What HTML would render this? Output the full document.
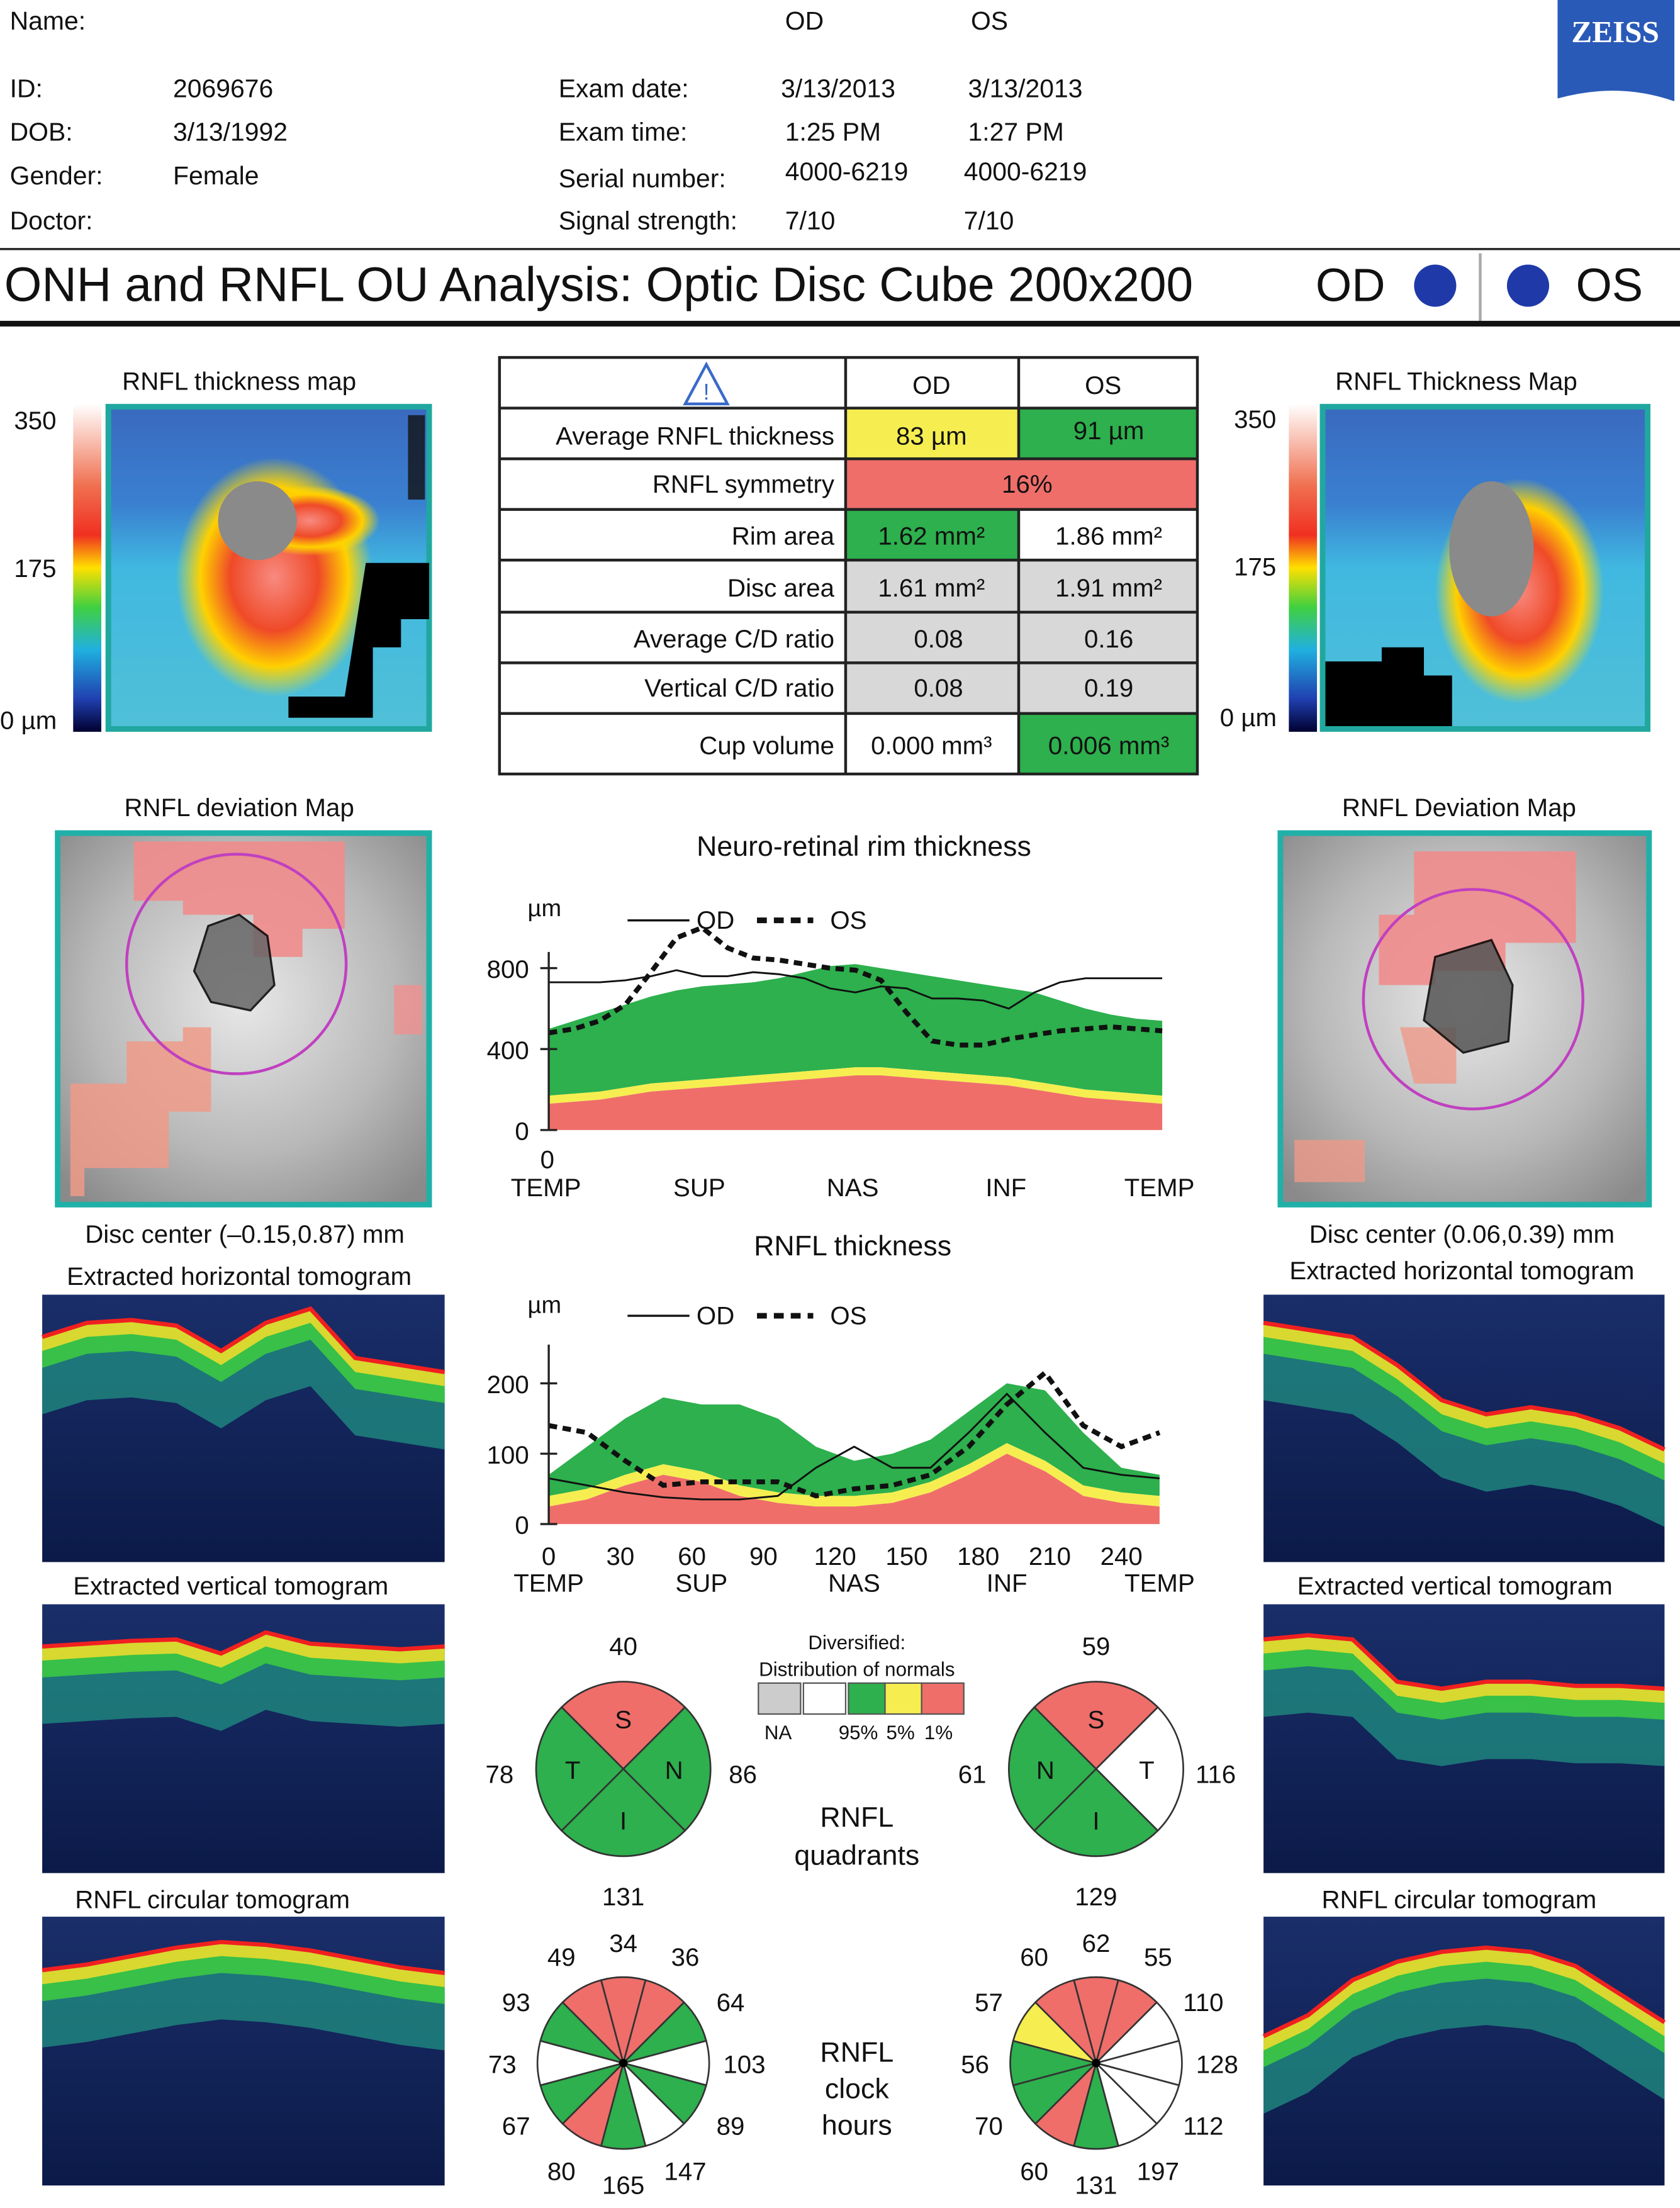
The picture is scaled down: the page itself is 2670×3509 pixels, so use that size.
<!DOCTYPE html>
<html><head><meta charset="utf-8"><style>
html,body{margin:0;padding:0;background:#fff}
svg{display:block}
text{font-family:"Liberation Sans",sans-serif;fill:#111}
</style></head><body>
<svg id="s" width="2670" height="3509" viewBox="0 0 1194 1569" preserveAspectRatio="none" xmlns="http://www.w3.org/2000/svg">
<defs>
<linearGradient id="cbar" x1="0" y1="0" x2="0" y2="1">
<stop offset="0" stop-color="#ffffff"/><stop offset="0.25" stop-color="#f07050"/><stop offset="0.4" stop-color="#f03020"/><stop offset="0.5" stop-color="#ffe000"/><stop offset="0.62" stop-color="#40d040"/><stop offset="0.75" stop-color="#20b0e0"/><stop offset="0.9" stop-color="#2040b0"/><stop offset="1" stop-color="#000030"/>
</linearGradient>
<radialGradient id="hot" cx="0.5" cy="0.5" r="0.5"><stop offset="0" stop-color="#f88a80"/><stop offset="0.45" stop-color="#ef4a28"/><stop offset="0.75" stop-color="#ffd000"/><stop offset="1" stop-color="#ffe000" stop-opacity="0"/></radialGradient>
<linearGradient id="mapbg" x1="0" y1="0" x2="0" y2="1"><stop offset="0" stop-color="#3a6ac0"/><stop offset="0.3" stop-color="#3a80d0"/><stop offset="0.5" stop-color="#40b8e0"/><stop offset="1" stop-color="#50c0d8"/></linearGradient>
<radialGradient id="fundus" cx="0.5" cy="0.45" r="0.7"><stop offset="0" stop-color="#e8e8e8"/><stop offset="0.6" stop-color="#b8b8b8"/><stop offset="1" stop-color="#8a8a8a"/></radialGradient>
<linearGradient id="tomobg" x1="0" y1="0" x2="0" y2="1"><stop offset="0" stop-color="#1a2e6a"/><stop offset="1" stop-color="#0b1a48"/></linearGradient>
</defs>

<g font-size="18.3">
<text x="7" y="21">Name:</text>
<text x="558" y="21">OD</text><text x="690" y="21">OS</text>
<text x="7" y="69">ID:</text><text x="123" y="69">2069676</text>
<text x="7" y="100">DOB:</text><text x="123" y="100">3/13/1992</text>
<text x="7" y="131">Gender:</text><text x="123" y="131">Female</text>
<text x="7" y="163">Doctor:</text>
<text x="397" y="69">Exam date:</text><text x="555" y="69">3/13/2013</text><text x="688" y="69">3/13/2013</text>
<text x="397" y="100">Exam time:</text><text x="558" y="100">1:25 PM</text><text x="688" y="100">1:27 PM</text>
<text x="397" y="133">Serial number:</text><text x="558" y="128">4000-6219</text><text x="685" y="128">4000-6219</text>
<text x="397" y="163">Signal strength:</text><text x="558" y="163">7/10</text><text x="685" y="163">7/10</text>
</g>
<g>
<path d="M1107 0 H1190 V72 Q1150 58 1107 70 Z" fill="#2a5ab8"/>
<text x="1148" y="30" font-size="22" font-weight="bold" text-anchor="middle" style="fill:#fff;font-family:'Liberation Serif',serif">ZEISS</text>
</g>
<line x1="0" y1="177" x2="1194" y2="177" stroke="#222" stroke-width="1.5"/>
<text x="3" y="214" font-size="34.3">ONH and RNFL OU Analysis: Optic Disc Cube 200x200</text>
<text x="935" y="214" font-size="33">OD</text><circle cx="1020" cy="203" r="15" fill="#1f3aa8"/>
<line x1="1052" y1="180" x2="1052" y2="228" stroke="#aaa" stroke-width="2"/>
<circle cx="1086" cy="203" r="15" fill="#1f3aa8"/><text x="1120" y="214" font-size="33">OS</text>
<line x1="0" y1="230" x2="1194" y2="230" stroke="#111" stroke-width="4"/>

<g>
<text x="170" y="277" font-size="18" text-anchor="middle">RNFL thickness map</text>
<text x="10" y="305" font-size="18">350</text><text x="10" y="410" font-size="18">175</text><text x="0" y="518" font-size="18">0 µm</text>
<rect x="52" y="287" width="20" height="233" fill="url(#cbar)"/>
<rect x="75" y="287" width="232" height="233" fill="#20a8a0"/>
<rect x="79" y="291" width="224" height="225" fill="url(#mapbg)"/>
<ellipse cx="195" cy="410" rx="70" ry="85" fill="url(#hot)"/>
<ellipse cx="220" cy="370" rx="50" ry="25" fill="url(#hot)"/>
<circle cx="183" cy="370" r="28" fill="#8a8a8a"/>
<path d="M260 400 h45 v40 h-20 v20 h-20 v50 h-60 v-15 h40 z" fill="#000"/>
<rect x="290" y="295" width="12" height="60" fill="#111" opacity="0.8"/>
</g>
<g>
<text x="1035" y="277" font-size="18" text-anchor="middle">RNFL Thickness Map</text>
<text x="877" y="304" font-size="18">350</text><text x="877" y="409" font-size="18">175</text><text x="867" y="516" font-size="18">0 µm</text>
<rect x="916" y="287" width="20" height="233" fill="url(#cbar)"/>
<rect x="938" y="287" width="235" height="233" fill="#20a8a0"/>
<rect x="942" y="291" width="227" height="225" fill="url(#mapbg)"/>
<ellipse cx="1080" cy="420" rx="60" ry="80" fill="url(#hot)"/>
<ellipse cx="1060" cy="390" rx="30" ry="48" fill="#8a8a8a"/>
<path d="M942 470 h40 v-10 h30 v20 h20 v36 h-90 z" fill="#000"/>
</g>

<g font-size="18">
<rect x="601" y="290" width="123" height="36" fill="#f6ee50"/>
<rect x="724" y="290" width="127" height="36" fill="#2db04d"/>
<rect x="601" y="326" width="250" height="36" fill="#ef6e6a"/>
<rect x="601" y="362" width="123" height="36" fill="#2db04d"/>
<rect x="601" y="398" width="250" height="109" fill="#d8d8d8"/>
<rect x="724" y="507" width="127" height="43" fill="#2db04d"/>
<g stroke="#222" stroke-width="2" fill="none">
<rect x="355" y="254" width="496" height="296"/>
<line x1="601" y1="254" x2="601" y2="550"/><line x1="724" y1="254" x2="724" y2="326"/><line x1="724" y1="362" x2="724" y2="550"/>
<line x1="355" y1="290" x2="851" y2="290"/><line x1="355" y1="326" x2="851" y2="326"/><line x1="355" y1="362" x2="851" y2="362"/>
<line x1="355" y1="398" x2="851" y2="398"/><line x1="355" y1="435" x2="851" y2="435"/><line x1="355" y1="471" x2="851" y2="471"/><line x1="355" y1="507" x2="851" y2="507"/>
</g>
<path d="M502 259 L517 287 H487 Z" fill="none" stroke="#3a6ac8" stroke-width="2"/><text x="502" y="284" font-size="16" text-anchor="middle" style="fill:#3a6ac8">!</text>
<text x="662" y="280" text-anchor="middle">OD</text><text x="784" y="280" text-anchor="middle">OS</text>
<g text-anchor="end">
<text x="593" y="316">Average RNFL thickness</text><text x="593" y="350">RNFL symmetry</text><text x="593" y="387">Rim area</text>
<text x="593" y="424">Disc area</text><text x="593" y="460">Average C/D ratio</text><text x="593" y="495">Vertical C/D ratio</text><text x="593" y="536">Cup volume</text>
</g>
<g text-anchor="middle">
<text x="662" y="316">83 µm</text><text x="788" y="312">91 µm</text><text x="730" y="350">16%</text>
<text x="662" y="387">1.62 mm²</text><text x="788" y="387">1.86 mm²</text>
<text x="662" y="424">1.61 mm²</text><text x="788" y="424">1.91 mm²</text>
<text x="667" y="460">0.08</text><text x="788" y="460">0.16</text>
<text x="667" y="495">0.08</text><text x="788" y="495">0.19</text>
<text x="662" y="536">0.000 mm³</text><text x="788" y="536">0.006 mm³</text>
</g>
</g>

<g>
<text x="170" y="580" font-size="18" text-anchor="middle">RNFL deviation Map</text>
<rect x="39" y="590" width="268" height="268" fill="#20b0a8"/>
<rect x="43" y="594" width="260" height="260" fill="url(#fundus)"/>
<path d="M95 598 H245 V660 H215 V680 H180 V650 H130 V640 H95 Z" fill="#f08c8c" opacity="0.9"/>
<path d="M50 800 V770 H90 V740 H130 V730 H150 V790 H120 V830 H60 V850 H50 Z" fill="#ee9a88" opacity="0.85"/>
<rect x="280" y="700" width="20" height="35" fill="#f09090" opacity="0.8"/>
<circle cx="168" cy="685" r="78" fill="none" stroke="#c040c0" stroke-width="2"/>
<path d="M148 658 L170 650 L190 665 L195 700 L178 718 L150 712 L138 690 Z" fill="#666" stroke="#000" stroke-width="1.5" opacity="0.85"/>
</g>
<text x="174" y="883" font-size="18" text-anchor="middle">Disc center (–0.15,0.87) mm</text>
<g>
<text x="1037" y="580" font-size="18" text-anchor="middle">RNFL Deviation Map</text>
<rect x="908" y="590" width="266" height="268" fill="#20b0a8"/>
<rect x="912" y="594" width="258" height="260" fill="url(#fundus)"/>
<path d="M1005 605 H1120 V670 H1070 V690 H1020 V700 H980 V650 H1005 Z" fill="#f08c8c" opacity="0.9"/>
<path d="M995 730 H1035 V770 H1005 Z" fill="#ee9a88" opacity="0.8"/>
<rect x="920" y="810" width="50" height="30" fill="#ee9a88" opacity="0.8"/>
<circle cx="1047" cy="710" r="78" fill="none" stroke="#c040c0" stroke-width="2"/>
<path d="M1020 680 L1060 668 L1075 700 L1072 740 L1040 748 L1012 725 Z" fill="#555" stroke="#000" stroke-width="1.5" opacity="0.85"/>
</g>
<text x="1039" y="883" font-size="18" text-anchor="middle">Disc center (0.06,0.39) mm</text>

<g font-size="18" text-anchor="middle">
<text x="170" y="913">Extracted horizontal tomogram</text><text x="1039" y="909">Extracted horizontal tomogram</text>
<text x="164" y="1133">Extracted vertical tomogram</text><text x="1034" y="1133">Extracted vertical tomogram</text>
<text x="151" y="1356">RNFL circular tomogram</text><text x="1037" y="1356">RNFL circular tomogram</text>
</g>
<g id="tomos"></g>

<text x="614" y="608" font-size="20" text-anchor="middle">Neuro-retinal rim thickness</text>
<text x="606" y="892" font-size="20" text-anchor="middle">RNFL thickness</text>
<g id="rim"></g>
<g id="rnfl"></g>

<g font-size="14" text-anchor="middle">
<text x="609" y="1172">Diversified:</text><text x="609" y="1191">Distribution of normals</text>
<rect x="539" y="1196" width="30" height="22" fill="#ccc" stroke="#555"/>
<rect x="571" y="1196" width="30" height="22" fill="#fff" stroke="#555"/>
<rect x="603" y="1196" width="26" height="22" fill="#2db04d" stroke="#555"/>
<rect x="629" y="1196" width="26" height="22" fill="#f6ee50" stroke="#555"/>
<rect x="655" y="1196" width="30" height="22" fill="#ef6e6a" stroke="#555"/>
<text x="553" y="1236">NA</text><text x="610" y="1236">95%</text><text x="640" y="1236">5%</text><text x="667" y="1236">1%</text>
</g>
<text x="609" y="1298" font-size="20" text-anchor="middle">RNFL</text><text x="609" y="1325" font-size="20" text-anchor="middle">quadrants</text>
<text x="609" y="1465" font-size="20" text-anchor="middle">RNFL</text><text x="609" y="1491" font-size="20" text-anchor="middle">clock</text><text x="609" y="1517" font-size="20" text-anchor="middle">hours</text>
<g id="pies"></g>
</svg>
<script>
var NS="http://www.w3.org/2000/svg";
function mk(parent,tag,attrs){var e=document.createElementNS(NS,tag);for(var k in attrs)e.setAttribute(k,attrs[k]);parent.appendChild(e);return e;}
var COL={R:"#ef6e6a",G:"#2db04d",W:"#ffffff",Y:"#f6ee50"};

var rimCats=["TEMP","SUP","NAS","INF","TEMP"];
var rimTicks=[0,400,800];
var rimOD=[730,730,730,740,760,790,760,760,780,770,750,700,680,710,700,650,650,640,600,680,730,750,750,750,750];
var rimOS=[480,500,540,620,780,950,1000,900,850,840,820,800,790,740,580,440,420,420,450,470,490,500,510,500,490];
var rimP1=[130,140,150,170,190,200,210,220,230,240,250,260,270,270,260,250,240,230,220,200,180,160,150,140,130];
var rimP5=[170,180,190,210,230,240,250,260,270,280,290,300,310,310,300,290,280,270,260,240,220,200,190,180,170];
var rimP95=[500,540,580,620,660,690,710,720,730,750,780,810,820,800,780,760,740,720,700,680,640,600,570,550,540];

var rnflTicksX=[0,30,60,90,120,150,180,210,240];
var rnflTicksY=[0,100,200];
var rnflCats=["TEMP","SUP","NAS","INF","TEMP"];
var rnflCatPos=[0,64,128,192,256];
var rnflOD=[65,55,45,38,35,35,40,80,110,80,80,130,185,130,80,70,65];
var rnflOS=[140,130,90,55,60,60,60,40,50,55,70,110,170,215,140,110,130];
var rnflP1=[25,35,55,70,60,40,30,25,25,30,45,70,100,75,40,30,25];
var rnflP5=[40,50,70,85,75,55,45,40,40,45,60,85,115,90,55,45,40];
var rnflP95=[70,110,150,180,170,170,150,110,90,100,120,160,200,190,130,80,70];

var quadLabelsOD=["S","N","I","T"], quadColOD=["R","G","G","G"], quadValOD=[40,86,131,78];
var quadLabelsOS=["S","T","I","N"], quadColOS=["R","W","G","G"], quadValOS=[59,116,129,61];
var clockValOD=[34,36,64,103,89,147,165,80,67,73,93,49];
var clockColOD=["R","R","G","W","G","W","G","R","G","W","G","R"];
var clockValOS=[62,55,110,128,112,197,131,60,70,56,57,60];
var clockColOS=["R","R","W","W","W","W","G","R","G","G","Y","R"];

function band(g,xs,lo,hi,y,fill,name){
  var d="";for(var i=0;i<xs.length;i++)d+=(i?"L":"M")+xs[i]+" "+y(hi[i]);
  for(var i=xs.length-1;i>=0;i--)d+="L"+xs[i]+" "+y(lo?lo[i]:0);
  var p=mk(g,"path",{d:d+"Z",fill:fill});
  
  
}
function line(g,xs,vals,y,dash,w,name){
  var d="";for(var i=0;i<xs.length;i++)d+=(i?"L":"M")+xs[i]+" "+y(vals[i]);
  var p=mk(g,"path",{d:d,fill:"none",stroke:"#111","stroke-width":w,"stroke-dasharray":dash});
  
  
}
function legend(g,y){
  mk(g,"line",{x1:446,y1:y,x2:490,y2:y,stroke:"#111","stroke-width":1.5});
  mk(g,"text",{x:495,y:y+6,"font-size":18}).textContent="OD";
  mk(g,"line",{x1:538,y1:y,x2:578,y2:y,stroke:"#111","stroke-width":4,"stroke-dasharray":"7,5"});
  mk(g,"text",{x:590,y:y+6,"font-size":18}).textContent="OS";
}
(function(){
  var g=document.getElementById("rim");
  var X=function(i){return 390+i*(826-390)/(rimOD.length-1);};
  var Y=function(v){return 803-v*0.1438;};
  var xs=rimOD.map(function(_,i){return X(i);});
  band(g,xs,rimP5,rimP95,Y,COL.G,"rim-normal-95-band");
  band(g,xs,rimP1,rimP5,Y,COL.Y,"rim-normal-5-band");
  band(g,xs,null,rimP1,Y,COL.R,"rim-normal-1-band");
  line(g,xs,rimOD,Y,"none",1.3,"rim-od-line");
  line(g,xs,rimOS,Y,"6,4",3.5,"rim-os-line");
  mk(g,"line",{x1:390,y1:Y(0),x2:390,y2:Y(880),stroke:"#222","stroke-width":1.5});
  mk(g,"text",{x:375,y:651,"font-size":17}).textContent="µm";
  rimTicks.forEach(function(t){
    mk(g,"line",{x1:384,y1:Y(t),x2:396,y2:Y(t),stroke:"#222","stroke-width":1.5});
    var tx=mk(g,"text",{x:376,y:Y(t)+7,"font-size":18,"text-anchor":"end"});tx.textContent=t;
    
    
  });
  mk(g,"text",{x:389,y:830,"font-size":18,"text-anchor":"middle"}).textContent="0";
  rimCats.forEach(function(c,i){
    var tx=mk(g,"text",{x:388+i*109,y:850,"font-size":18,"text-anchor":"middle"});tx.textContent=c;
    
    
  });
  legend(g,654);
})();
(function(){
  var g=document.getElementById("rnfl");
  var X=function(t){return 390+t*(797-390)/240;};
  var Y=function(v){return 1083-v*0.5;};
  var xs=rnflOD.map(function(_,i){return X(i*16);});
  band(g,xs,rnflP5,rnflP95,Y,COL.G,"rnfl-normal-95-band");
  band(g,xs,rnflP1,rnflP5,Y,COL.Y,"rnfl-normal-5-band");
  band(g,xs,null,rnflP1,Y,COL.R,"rnfl-normal-1-band");
  line(g,xs,rnflOD,Y,"none",1.3,"rnfl-od-line");
  line(g,xs,rnflOS,Y,"6,4",3.5,"rnfl-os-line");
  mk(g,"line",{x1:390,y1:Y(0),x2:390,y2:Y(255),stroke:"#222","stroke-width":1.5});
  mk(g,"text",{x:375,y:933,"font-size":17}).textContent="µm";
  rnflTicksY.forEach(function(t){
    mk(g,"line",{x1:384,y1:Y(t),x2:396,y2:Y(t),stroke:"#222","stroke-width":1.5});
    var tx=mk(g,"text",{x:376,y:Y(t)+7,"font-size":18,"text-anchor":"end"});tx.textContent=t;
    
    
  });
  rnflTicksX.forEach(function(t){
    var tx=mk(g,"text",{x:X(t),y:1112,"font-size":18,"text-anchor":"middle"});tx.textContent=t;
    
    
  });
  rnflCats.forEach(function(c,i){
    var tx=mk(g,"text",{x:X(rnflCatPos[i]),y:1131,"font-size":18,"text-anchor":"middle"});tx.textContent=c;
    
    
  });
  legend(g,935);
})();
function sector(g,cx,cy,r,a0,a1,fill,name){
  function pt(a){return [cx+r*Math.sin(a*Math.PI/180),cy-r*Math.cos(a*Math.PI/180)];}
  var p0=pt(a0),p1=pt(a1);
  var p=mk(g,"path",{d:"M"+cx+" "+cy+"L"+p0[0]+" "+p0[1]+"A"+r+" "+r+" 0 "+((a1-a0)>180?1:0)+" 1 "+p1[0]+" "+p1[1]+"Z",fill:fill,stroke:"#333","stroke-width":1.2});
  
  
}
(function(){
  var g=document.getElementById("pies");
  function quad(cx,cy,labels,cols,vals,pref){
    var lp=[[0,-87],[85,4],[0,91],[-88,4]];
    for(var i=0;i<4;i++){
      sector(g,cx,cy,62,-45+i*90,45+i*90,COL[cols[i]],pref+"-quadrant-"+labels[i]);
      var a=i*90*Math.PI/180;
      mk(g,"text",{x:cx+36*Math.sin(a),y:cy-36*Math.cos(a)+7,"font-size":18,"text-anchor":"middle"}).textContent=labels[i];
      var tv=mk(g,"text",{x:cx+lp[i][0],y:cy+lp[i][1]+6,"font-size":18,"text-anchor":"middle"});tv.textContent=vals[i];
      
      
    }
  }
  quad(443,1257,quadLabelsOD,quadColOD,quadValOD,"od");
  quad(779,1257,quadLabelsOS,quadColOS,quadValOS,"os");
  function clock(cx,cy,cols,vals,pref){
    for(var i=0;i<12;i++){
      sector(g,cx,cy,61,-15+i*30,15+i*30,COL[cols[i]],pref+"-clock-hour-"+(i==0?12:i));
      var a=i*30*Math.PI/180, rr=(i%3==0)?86:88;
      var tv=mk(g,"text",{x:cx+rr*Math.sin(a),y:cy-rr*Math.cos(a)+7,"font-size":18,"text-anchor":"middle"});tv.textContent=vals[i];
      
      
    }
    mk(g,"circle",{cx:cx,cy:cy,r:3,fill:"#000"});
  }
  clock(443,1466,clockColOD,clockValOD,"od");
  clock(779,1466,clockColOS,clockValOS,"os");
})();
(function(){
  var g=document.getElementById("tomos");
  var boxes=[
    [30,920,286,190,[30,20,18,22,40,20,10,45,50,55],"od-horizontal-tomogram"],
    [30,1140,286,191,[30,28,26,25,35,20,28,30,32,30],"od-vertical-tomogram"],
    [30,1362,286,191,[38,34,28,22,18,20,24,30,36,40],"od-circular-tomogram"],
    [898,920,285,190,[20,25,30,50,75,85,80,85,95,110],"os-horizontal-tomogram"],
    [898,1140,285,191,[25,22,25,55,60,55,55,58,58,60],"os-vertical-tomogram"],
    [898,1362,285,191,[85,70,45,32,25,22,25,35,55,75],"os-circular-tomogram"]];
  boxes.forEach(function(b){
    var x=b[0],y=b[1],w=b[2],h=b[3],prof=b[4];
    var gg=mk(g,"g",{});
    
    
    mk(gg,"rect",{x:x,y:y,width:w,height:h,fill:"url(#tomobg)"});
    var n=prof.length;
    var pts=prof.map(function(v,i){return [x+i*w/(n-1),y+v];});
    var d="M"+pts.map(function(p){return p[0]+" "+p[1];}).join("L");
    var back=pts.slice().reverse();
    mk(gg,"path",{d:d+"L"+back.map(function(p){return p[0]+" "+(p[1]+55);}).join("L")+"Z",fill:"#1f8a80",opacity:0.8});
    mk(gg,"path",{d:d+"L"+back.map(function(p){return p[0]+" "+(p[1]+22);}).join("L")+"Z",fill:"#38c048"});
    mk(gg,"path",{d:d+"L"+back.map(function(p){return p[0]+" "+(p[1]+10);}).join("L")+"Z",fill:"#d8d830"});
    mk(gg,"path",{d:d,fill:"none",stroke:"#f02020","stroke-width":3});
  });
})();
</script>
</body></html>
